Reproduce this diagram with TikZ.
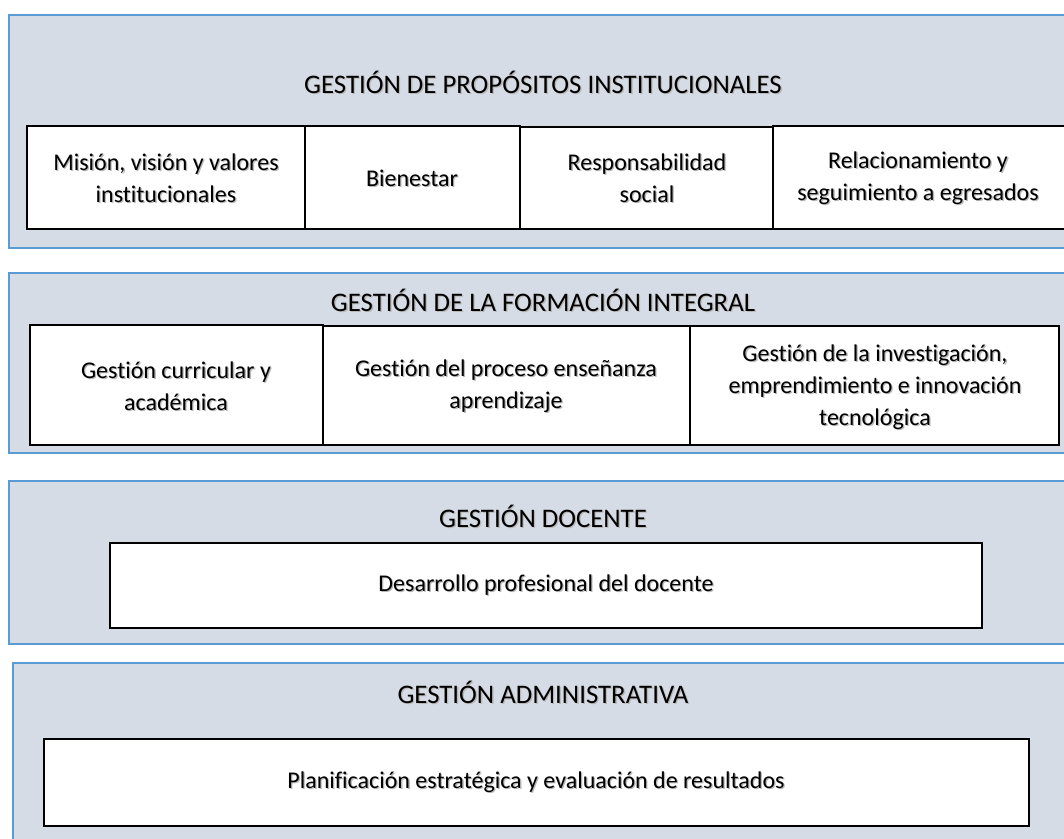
\documentclass[tikz,border=0pt]{standalone}
\usepackage{fontspec}
\setmainfont{Carlito}[Ligatures={NoCommon,NoRare}]
\definecolor{panelfill}{HTML}{D6DCE5}
\definecolor{panelline}{HTML}{5B9BD5}
\newcommand{\shlabel}[4][lbl]{%
  \node[#1,text=black!28,xshift=1.3pt,yshift=-1.3pt] (#2s) at (#3) {#4};
  \node[#1] (#2) at (#3) {#4};}
\newcommand{\cellbox}[5]{%
  \node[cell,anchor=north west,minimum width=#4pt-#2pt,minimum height=#5pt-#3pt] (#1) at (#2,#3) {};}
\begin{document}
\begin{tikzpicture}[x=1pt,y=-1pt,
  panel/.style={fill=panelfill,draw=panelline,line width=2.2pt},
  cell/.style={draw=black,fill=white,line width=2.4pt,inner sep=0pt,outer sep=0pt},
  lbl/.style={font=\fontsize{24}{32}\selectfont,align=center,text=black,inner sep=0pt},
  ttl/.style={font=\fontsize{26.8}{32}\selectfont,align=center,text=black,inner sep=0pt}]
\useasboundingbox (0,0) rectangle (1064,838);
\clip (0,0) rectangle (1064,838);
% panels
\node[panel,anchor=north west,minimum width=1062pt,minimum height=233pt,inner sep=0pt] (p1) at (8,14) {};
\node[panel,anchor=north west,minimum width=1062pt,minimum height=180pt,inner sep=0pt] (p2) at (8,272) {};
\node[panel,anchor=north west,minimum width=1062pt,minimum height=163pt,inner sep=0pt] (p3) at (8,480) {};
\node[panel,anchor=north west,minimum width=1058pt,minimum height=190pt,inner sep=0pt] (p4) at (12,662) {};
% cells panel 1
\cellbox{c11}{27}{126}{305}{229}
\cellbox{c12}{305}{126}{520}{229}
\cellbox{c13}{520}{127}{773}{229}
\cellbox{c14}{773}{126}{1068}{229}
% cells panel 2
\cellbox{c21}{30}{325}{323}{445}
\cellbox{c22}{323}{326}{690}{445}
\cellbox{c23}{690}{326}{1059}{445}
% cells panel 3, 4
\cellbox{c31}{110}{543}{982}{628}
\cellbox{c41}{44}{739}{1029}{826}
% titles
\shlabel[ttl]{t1}{543,82}{GESTIÓN DE PROPÓSITOS INSTITUCIONALES}
\shlabel[ttl]{t2}{543,300}{GESTIÓN DE LA FORMACIÓN INTEGRAL}
\shlabel[ttl]{t3}{543,516}{GESTIÓN DOCENTE}
\shlabel[ttl]{t4}{543,692}{GESTIÓN ADMINISTRATIVA}
% texts
\shlabel{l11}{166,178}{Misión, visión y valores\\institucionales}
\shlabel{l12}{412,178}{Bienestar}
\shlabel{l13}{647,178}{Responsabilidad\\social}
\shlabel{l14}{918,178}{Relacionamiento y\\seguimiento a egresados}
\shlabel{l21}{176,386}{Gestión curricular y\\académica}
\shlabel{l22}{506,386}{Gestión del proceso enseñanza\\aprendizaje}
\shlabel{l23}{875,387}{Gestión de la investigación,\\emprendimiento e innovación\\tecnológica}
\shlabel{l31}{546,585}{Desarrollo profesional del docente}
\shlabel{l41}{536,782}{Planificación estratégica y evaluación de resultados}
\end{tikzpicture}
\end{document}
